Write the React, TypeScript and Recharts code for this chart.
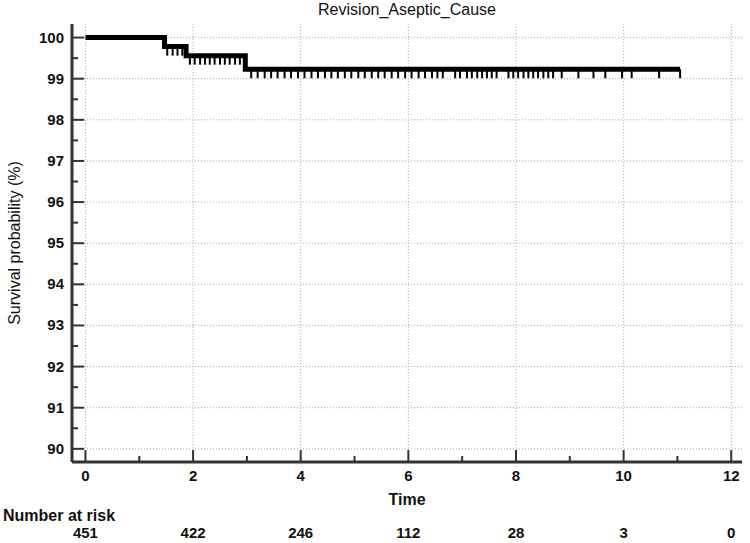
import React from 'react';
import { ComposedChart, Line, Scatter, XAxis, YAxis, CartesianGrid } from 'recharts';

// step curve (Kaplan-Meier), time in years, survival in %
const stepTimes = [0, 1.47, 1.87, 2.97, 11.05];
const stepSurvival = [100, 99.78, 99.56, 99.23, 99.23];

// censored observations, grouped by the survival level they sit on
const censoredA = [1.52, 1.62, 1.71, 1.8];
const censoredB = [1.94, 2.03, 2.13, 2.22, 2.31, 2.4, 2.5, 2.59, 2.68, 2.78, 2.87];
const censoredC = [
  3.08, 3.2, 3.33, 3.45, 3.57, 3.7, 3.82, 3.95, 4.07, 4.2, 4.32, 4.45, 4.57, 4.69, 4.82,
  4.94, 5.07, 5.19, 5.32, 5.44, 5.56, 5.69, 5.81, 5.94, 6.06, 6.19, 6.31, 6.44, 6.54, 6.64,
  6.87, 6.96, 7.09, 7.18, 7.28, 7.37, 7.46, 7.55, 7.64, 7.86, 7.95, 8.04, 8.14, 8.23, 8.32,
  8.41, 8.51, 8.6, 8.69, 8.85, 9.16, 9.44, 9.66, 9.97, 10.15, 10.66, 11.05,
];

const xTicks = [0, 1, 2, 3, 4, 5, 6, 7, 8, 9, 10, 11, 12];
const xMajor = [0, 2, 4, 6, 8, 10, 12];
const yTicks = [90, 90.5, 91, 91.5, 92, 92.5, 93, 93.5, 94, 94.5, 95, 95.5, 96, 96.5, 97, 97.5, 98, 98.5, 99, 99.5, 100];
const yMajor = [90, 91, 92, 93, 94, 95, 96, 97, 98, 99, 100];
const atRisk = [451, 422, 246, 112, 28, 3, 0];

const curve = stepTimes.map((t, i) => ({ t, s: stepSurvival[i] }));
const censored = [
  ...censoredA.map((t) => ({ t, s: stepSurvival[1] })),
  ...censoredB.map((t) => ({ t, s: stepSurvival[2] })),
  ...censoredC.map((t) => ({ t, s: stepSurvival[3] })),
];

const AXIS = '#333';
const FONT = '"Liberation Sans", Arial, sans-serif';
const X_MARGIN = 19;
const Y_MARGIN = 8;

const XTick = (props: any) => {
  const { x, y, payload } = props;
  const v = payload.value;
  const idx = xMajor.indexOf(v);
  const axisY = y - X_MARGIN;
  return (
    <g>
      <line x1={x} x2={x} y1={axisY} y2={axisY - (idx >= 0 ? 12 : 6)} stroke={AXIS} strokeWidth={2} />
      {idx >= 0 && (
        <text x={x} y={y} textAnchor="middle" fontSize={15} fontWeight="bold" fill="#111" fontFamily={FONT}>
          {v}
        </text>
      )}
      {idx >= 0 && (
        <text x={x} y={y + 57} textAnchor="middle" fontSize={15} fontWeight="bold" fill="#111" fontFamily={FONT}>
          {atRisk[idx]}
        </text>
      )}
    </g>
  );
};

const YTick = (props: any) => {
  const { x, y, payload } = props;
  const v = payload.value;
  const major = yMajor.includes(v);
  const axisX = x + Y_MARGIN;
  return (
    <g>
      <line x1={axisX} x2={axisX + (major ? 12 : 6)} y1={y} y2={y} stroke={AXIS} strokeWidth={2} />
      {major && (
        <text x={x} y={y + 5} textAnchor="end" fontSize={15} fontWeight="bold" fill="#111" fontFamily={FONT}>
          {v}
        </text>
      )}
    </g>
  );
};

const CensorMark = (props: any) => {
  const { cx, cy } = props;
  return <line x1={cx} x2={cx} y1={cy} y2={cy + 9} stroke="#000" strokeWidth={2} />;
};

export default function App() {
  return (
    <div style={{ position: 'absolute', left: 0, top: 0, width: 750, height: 543, background: '#fff', fontFamily: FONT }}>
      <div style={{ position: 'absolute', left: 72, width: 670, top: 1, textAlign: 'center', fontSize: 16, lineHeight: '18px', color: '#111' }}>
        Revision_Aseptic_Cause
      </div>
      <div style={{ position: 'absolute', left: 3, top: 507, fontSize: 16, lineHeight: '18px', fontWeight: 'bold', color: '#111' }}>
        Number at risk
      </div>
      <ComposedChart width={750} height={543} margin={{ top: 24, right: 8, bottom: 0, left: 0 }}>
        <CartesianGrid
          stroke="#aaa"
          strokeDasharray="1 2"
          verticalValues={xMajor}
          horizontalValues={yMajor}
        />
        <XAxis
          dataKey="t"
          type="number"
          domain={[-0.25, 12.2]}
          ticks={xTicks}
          interval={0}
          allowDataOverflow
          height={81}
          tickSize={0}
          tickMargin={X_MARGIN}
          tickLine={false}
          axisLine={{ stroke: AXIS, strokeWidth: 3 }}
          tick={<XTick />}
          label={{ value: 'Time', position: 'insideBottom', offset: 38, fontSize: 16, fontWeight: 'bold', fill: '#111', fontFamily: FONT }}
        />
        <YAxis
          dataKey="s"
          type="number"
          domain={[89.68, 100.33]}
          ticks={yTicks}
          interval={0}
          allowDataOverflow
          width={72}
          tickSize={0}
          tickMargin={Y_MARGIN}
          tickLine={false}
          axisLine={{ stroke: AXIS, strokeWidth: 3 }}
          tick={<YTick />}
          label={{
            value: 'Survival probability (%)',
            angle: -90,
            position: 'insideLeft',
            offset: 14,
            fontSize: 16,
            fill: '#111',
            fontFamily: FONT,
            style: { textAnchor: 'middle' },
          }}
        />
        <Line
          data={curve}
          dataKey="s"
          type="stepAfter"
          stroke="#000"
          strokeWidth={5}
          dot={false}
          activeDot={false}
          isAnimationActive={false}
        />
        <Scatter data={censored} dataKey="s" shape={<CensorMark />} isAnimationActive={false} />
      </ComposedChart>
    </div>
  );
}
